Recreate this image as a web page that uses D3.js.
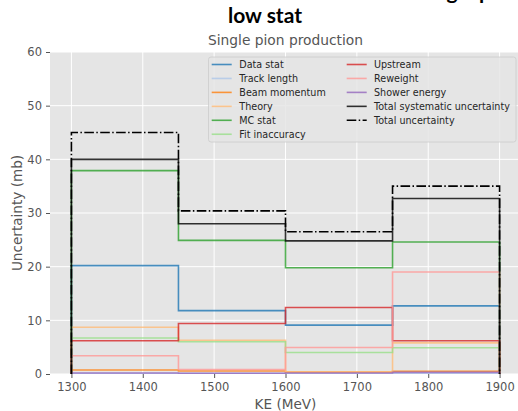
<!DOCTYPE html>
<html>
<head>
<meta charset="utf-8">
<script src="https://cdn.jsdelivr.net/npm/d3@7/dist/d3.min.js"></script>
<style>
  html, body { margin: 0; padding: 0; background: #fff; }
  svg { display: block; }
</style>
</head>
<body>
<svg id="chart" width="518" height="411"></svg>
<script>
// Bin edges in kinetic energy (MeV)
const binEdges = [1300, 1450, 1600, 1750, 1900];

// Uncertainty contributions per bin (mb)
const dataStat      = [20.2, 11.8, 9.1, 12.7];
const trackLength   = [0.1, 0.1, 0.1, 0.1];
const beamMomentum  = [0.75, 0.55, 0.35, 0.5];
const theory        = [8.7, 6.3, 0.4, 5.8];
const mcStat        = [37.9, 24.9, 19.8, 24.6];
const fitInaccuracy = [6.7, 6.0, 4.0, 4.9];
const upstream      = [6.2, 9.4, 12.4, 6.2];
const reweight      = [3.4, 0.85, 4.95, 19.0];
const showerEnergy  = [0.2, 0.15, 0.2, 0.3];
const totalSyst     = [40.0, 28.0, 24.8, 32.7];
const totalUnc      = [45.0, 30.4, 26.5, 35.0];

const seriesNames = ["Data stat", "Track length", "Beam momentum", "Theory", "MC stat",
  "Fit inaccuracy", "Upstream", "Reweight", "Shower energy",
  "Total systematic uncertainty", "Total uncertainty"];
const seriesValues = [dataStat, trackLength, beamMomentum, theory, mcStat,
  fitInaccuracy, upstream, reweight, showerEnergy, totalSyst, totalUnc];

const xTicks = [1300, 1400, 1500, 1600, 1700, 1800, 1900];
const yTicks = [0, 10, 20, 30, 40, 50, 60];

const titleLines = ["Absolute cross section uncertainties for the single pion",
  "low stat"];
const subtitle = "Single pion production";
const xLabel = "KE (MeV)";
const yLabel = "Uncertainty (mb)";

// Styling
const colors = ["#1f77b4", "#aec7e8", "#ff7f0e", "#ffbb78", "#2ca02c",
  "#98df8a", "#d62728", "#ff9896", "#9467bd", "#000000", "#000000"];
const dashes = [null, null, null, null, null, null, null, null, null, null, "9.6,2.4,1.5,2.4"];

const plot = { left: 50, right: 521, top: 52, bottom: 374 };
const labelColor = "#555555";
const font = "'DejaVu Sans', sans-serif";

const svg = d3.select("#chart");

// Axis ranges padded by 5% like the usual histogram default
const span = binEdges[binEdges.length - 1] - binEdges[0];
const x = d3.scaleLinear()
  .domain([binEdges[0] - 0.05 * span, binEdges[binEdges.length - 1] + 0.05 * span])
  .range([plot.left, plot.right]);
const y = d3.scaleLinear().domain([0, 60]).range([plot.bottom, plot.top]);

// Panel background
svg.append("rect")
  .attr("x", plot.left).attr("y", plot.top)
  .attr("width", plot.right - plot.left).attr("height", plot.bottom - plot.top)
  .attr("fill", "#e5e5e5");

// Grid
const grid = svg.append("g");
grid.selectAll("line.v").data(xTicks).join("line")
  .attr("x1", d => x(d)).attr("x2", d => x(d))
  .attr("y1", plot.top).attr("y2", plot.bottom)
  .attr("stroke", "#ffffff").attr("stroke-width", 1);
grid.selectAll("line.h").data(yTicks).join("line")
  .attr("x1", plot.left).attr("x2", plot.right)
  .attr("y1", d => y(d)).attr("y2", d => y(d))
  .attr("stroke", "#ffffff").attr("stroke-width", 1);

// Axes
const xAxis = svg.append("g")
  .attr("transform", `translate(0,${plot.bottom})`)
  .call(d3.axisBottom(x).tickValues(xTicks).tickSize(4).tickPadding(5).tickFormat(d3.format("d")));
const yAxis = svg.append("g")
  .attr("transform", `translate(${plot.left},0)`)
  .call(d3.axisLeft(y).tickValues(yTicks).tickSize(4).tickPadding(4).tickFormat(d3.format("d")));
[xAxis, yAxis].forEach(ax => {
  ax.select(".domain").remove();
  ax.selectAll(".tick line").attr("stroke", labelColor).attr("stroke-width", 1);
  ax.selectAll(".tick text").attr("fill", labelColor)
    .style("font-family", font).style("font-size", "11.5px");
});

// Step outlines, open at the bottom
const stepPoints = vals => {
  const pts = [[binEdges[0], 0]];
  vals.forEach((v, i) => { pts.push([binEdges[i], v]); pts.push([binEdges[i + 1], v]); });
  pts.push([binEdges[binEdges.length - 1], 0]);
  return pts;
};
const line = d3.line().x(d => x(d[0])).y(d => y(d[1]));

svg.append("clipPath").attr("id", "plotclip")
  .append("rect").attr("x", plot.left).attr("y", plot.top)
  .attr("width", plot.right - plot.left).attr("height", plot.bottom - plot.top);

svg.append("g").attr("clip-path", "url(#plotclip)")
  .selectAll("path").data(seriesValues).join("path")
  .attr("d", d => line(stepPoints(d)))
  .attr("fill", "none")
  .attr("stroke", (d, i) => colors[i])
  .attr("stroke-opacity", (d, i) => i === 10 ? 1 : 0.8)
  .attr("stroke-width", 1.6)
  .attr("stroke-dasharray", (d, i) => dashes[i]);

// Legend
const legend = { left: 208.5, top: 57, right: 516, bottom: 142, row: 13.95, firstRow: 64.5 };
svg.append("rect")
  .attr("x", legend.left).attr("y", legend.top)
  .attr("width", legend.right - legend.left).attr("height", legend.bottom - legend.top)
  .attr("rx", 2.5)
  .attr("fill", "#e5e5e5").attr("fill-opacity", 0.85)
  .attr("stroke", "#cccccc").attr("stroke-width", 0.8);

const colX = [{ line: 211.7, text: 239.3 }, { line: 346.7, text: 374 }];
const perCol = 6;
const items = svg.append("g").selectAll("g").data(seriesNames).join("g")
  .attr("transform", (d, i) => `translate(0,${legend.firstRow + (i % perCol) * legend.row})`);
items.append("line")
  .attr("x1", (d, i) => colX[Math.floor(i / perCol)].line)
  .attr("x2", (d, i) => colX[Math.floor(i / perCol)].line + 20)
  .attr("y1", 0).attr("y2", 0)
  .attr("stroke", (d, i) => colors[i])
  .attr("stroke-opacity", (d, i) => i === 10 ? 1 : 0.8)
  .attr("stroke-width", 1.6)
  .attr("stroke-dasharray", (d, i) => dashes[i]);
items.append("text")
  .attr("x", (d, i) => colX[Math.floor(i / perCol)].text)
  .attr("y", 0).attr("dy", "0.35em")
  .attr("fill", "#262626")
  .style("font-family", font).style("font-size", "9.6px")
  .text(d => d);

// Titles and axis labels (the first title line runs off the top of the figure)
svg.append("text")
  .attr("x", 265).attr("y", -1.5)
  .attr("text-anchor", "middle")
  .style("font-family", "Lato, sans-serif").style("font-weight", 700).style("font-size", "21px")
  .attr("fill", "#000")
  .text(titleLines[0]);
svg.append("text")
  .attr("x", 265).attr("y", 23)
  .attr("text-anchor", "middle")
  .style("font-family", "Lato, sans-serif").style("font-weight", 700).style("font-size", "21px")
  .attr("fill", "#000")
  .text(titleLines[1]);
svg.append("text")
  .attr("x", (plot.left + plot.right) / 2).attr("y", 44.5)
  .attr("text-anchor", "middle")
  .style("font-family", font).style("font-size", "13.8px")
  .attr("fill", labelColor)
  .text(subtitle);
svg.append("text")
  .attr("x", (plot.left + plot.right) / 2).attr("y", 408.5)
  .attr("text-anchor", "middle")
  .style("font-family", font).style("font-size", "13.6px")
  .attr("fill", labelColor)
  .text(xLabel);
svg.append("text")
  .attr("transform", `translate(21.5,${(plot.top + plot.bottom) / 2}) rotate(-90)`)
  .attr("text-anchor", "middle")
  .style("font-family", font).style("font-size", "13.6px")
  .attr("fill", labelColor)
  .text(yLabel);
</script>
</body>
</html>
